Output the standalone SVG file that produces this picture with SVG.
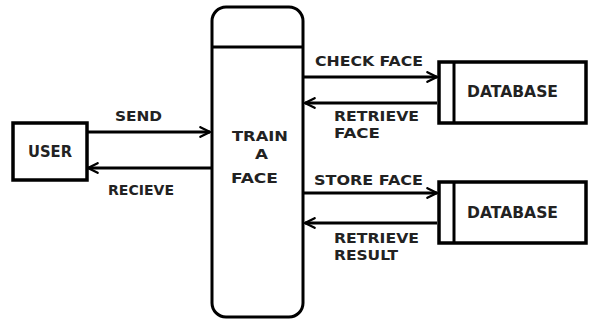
<svg xmlns="http://www.w3.org/2000/svg" width="590" height="320" viewBox="0 0 590 320">
  <defs>
    <marker id="arrow" viewBox="0 0 10 10" refX="9" refY="5" markerWidth="4" markerHeight="4" markerUnits="strokeWidth" orient="auto">
      <path d="M1,1 L9,5 L1,9" fill="none" stroke="#000" stroke-width="2" stroke-linecap="round" stroke-linejoin="round"/>
    </marker>
    <style>
      .box { fill: #fff; stroke: #000; stroke-width: 3; }
      .store { stroke-width: 3.5; }
      .line { fill: none; stroke: #000; stroke-width: 3; }
      .flow { fill: none; stroke: #000; stroke-width: 3; marker-end: url(#arrow); }
      .label { font-family: "DejaVu Sans", "Liberation Sans", sans-serif; font-weight: bold; fill: #222; }
      .node { font-size: 16px; }
      .edge { font-size: 14px; }
    </style>
  </defs>

  <rect width="590" height="320" fill="#fff"/>

  <g id="connectors">
    <line class="flow" x1="88" y1="132" x2="210" y2="132"/>
    <line class="flow" x1="211" y1="168" x2="88" y2="168"/>
    <line class="flow" x1="304" y1="77" x2="437" y2="77"/>
    <line class="flow" x1="437" y1="103" x2="305" y2="103"/>
    <line class="flow" x1="304" y1="193" x2="437" y2="193"/>
    <line class="flow" x1="437" y1="223" x2="305" y2="223"/>
    <text class="label edge" x="115" y="121" textLength="47" lengthAdjust="spacingAndGlyphs">SEND</text>
    <text class="label edge" x="108" y="195" textLength="66" lengthAdjust="spacingAndGlyphs">RECIEVE</text>
    <text class="label edge" x="315" y="66" textLength="108" lengthAdjust="spacingAndGlyphs">CHECK FACE</text>
    <text class="label edge" x="334" y="121" textLength="85" lengthAdjust="spacingAndGlyphs">RETRIEVE</text>
    <text class="label edge" x="334" y="138" textLength="46" lengthAdjust="spacingAndGlyphs">FACE</text>
    <text class="label edge" x="314" y="185" textLength="109" lengthAdjust="spacingAndGlyphs">STORE FACE</text>
    <text class="label edge" x="334" y="243" textLength="85" lengthAdjust="spacingAndGlyphs">RETRIEVE</text>
    <text class="label edge" x="334" y="260" textLength="64" lengthAdjust="spacingAndGlyphs">RESULT</text>
  </g>

  <g id="user">
    <rect class="box store" x="13" y="123" width="74" height="57"/>
    <text class="label node" x="28" y="157" textLength="44" lengthAdjust="spacingAndGlyphs">USER</text>
  </g>

  <g id="train-a-face">
    <rect class="box" x="212" y="7" width="91" height="310" rx="14" ry="14"/>
    <line class="line" x1="212" y1="47" x2="303" y2="47"/>
    <text class="label edge" x="232" y="141" textLength="56" lengthAdjust="spacingAndGlyphs">TRAIN</text>
    <text class="label edge" x="255" y="159" textLength="13" lengthAdjust="spacingAndGlyphs">A</text>
    <text class="label edge" x="231" y="183" textLength="47" lengthAdjust="spacingAndGlyphs">FACE</text>
  </g>

  <g id="database-1">
    <rect class="box store" x="439" y="62" width="147" height="61"/>
    <line class="line" x1="454" y1="62" x2="454" y2="123"/>
    <text class="label node" x="467" y="97" textLength="91" lengthAdjust="spacingAndGlyphs">DATABASE</text>
  </g>

  <g id="database-2">
    <rect class="box store" x="439" y="182" width="147" height="61"/>
    <line class="line" x1="454" y1="182" x2="454" y2="243"/>
    <text class="label node" x="467" y="218" textLength="91" lengthAdjust="spacingAndGlyphs">DATABASE</text>
  </g>
</svg>
